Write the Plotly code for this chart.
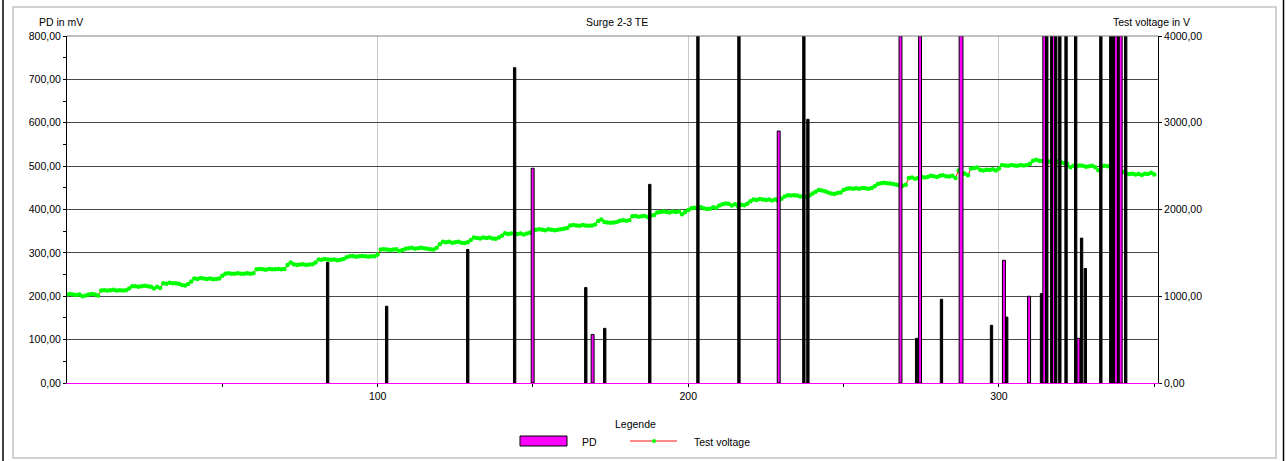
import plotly.graph_objects as go

# ---- data -------------------------------------------------------------
# partial discharge pulses: position on the sample axis and level in mV
pd_x = [83.9, 102.9, 129.0, 144.1, 149.9, 167.0, 169.2, 173.1, 187.6, 203.1,
        216.3, 229.1, 237.2, 238.5, 268.3, 273.5, 274.6, 281.5, 287.8, 297.6,
        301.6, 302.5, 309.7, 313.7, 314.6, 315.4, 317.0, 317.7, 318.3, 319.6,
        321.6, 324.7, 325.6, 326.6, 327.8, 332.8, 336.0, 336.6, 337.2, 337.7,
        338.5, 339.2, 340.8]
pd_mv = [278, 177, 308, 727, 495, 220, 112, 126, 458, 800,
         800, 581, 800, 608, 800, 103, 800, 193, 800, 133,
         283, 152, 200, 206, 800, 800, 800, 800, 800, 800,
         800, 800, 103, 334, 264, 800, 800, 800, 800, 800,
         800, 800, 800]

# test voltage in V, one reading per sample 0..350
voltage = [
    1020, 1025, 1020, 1015, 1020, 1000, 1010, 1020, 1025, 1020,
    1010, 1065, 1070, 1065, 1070, 1075, 1065, 1070, 1065, 1070,
    1090, 1115, 1115, 1110, 1115, 1120, 1115, 1110, 1090, 1110,
    1095, 1150, 1145, 1155, 1150, 1150, 1145, 1130, 1125, 1140,
    1170, 1205, 1200, 1210, 1205, 1200, 1205, 1195, 1200, 1205,
    1235, 1260, 1265, 1260, 1260, 1265, 1260, 1260, 1265, 1260,
    1265, 1310, 1315, 1310, 1305, 1315, 1310, 1310, 1315, 1310,
    1315, 1360, 1390, 1370, 1360, 1365, 1370, 1360, 1365, 1370,
    1390, 1425, 1420, 1430, 1425, 1420, 1425, 1415, 1420, 1430,
    1450, 1460, 1465, 1455, 1460, 1465, 1460, 1455, 1460, 1460,
    1480, 1538, 1543, 1538, 1533, 1538, 1543, 1523, 1533, 1548,
    1553, 1558, 1548, 1553, 1558, 1553, 1548, 1543, 1538, 1558,
    1598, 1628, 1623, 1628, 1618, 1623, 1628, 1618, 1613, 1623,
    1648, 1677, 1672, 1667, 1677, 1672, 1677, 1667, 1662, 1677,
    1697, 1727, 1717, 1722, 1727, 1717, 1722, 1712, 1722, 1732,
    1757, 1767, 1772, 1767, 1762, 1772, 1767, 1762, 1767, 1772,
    1777, 1787, 1817, 1822, 1817, 1812, 1822, 1817, 1812, 1817,
    1827, 1866, 1886, 1856, 1851, 1846, 1851, 1856, 1871, 1876,
    1871, 1876, 1921, 1926, 1916, 1921, 1926, 1911, 1931, 1936,
    1966, 1971, 1976, 1971, 1966, 1976, 1971, 1976, 1946, 1971,
    1995, 2015, 2020, 2015, 2025, 2015, 2005, 2010, 2025, 2020,
    2045, 2060, 2070, 2065, 2045, 2060, 2035, 2055, 2050, 2065,
    2095, 2115, 2110, 2120, 2115, 2110, 2115, 2105, 2115, 2095,
    2125, 2150, 2165, 2160, 2165, 2160, 2150, 2155, 2145, 2160,
    2185, 2205, 2225, 2220, 2210, 2195, 2185, 2180, 2190, 2195,
    2224, 2239, 2244, 2239, 2244, 2239, 2249, 2244, 2239, 2249,
    2269, 2294, 2304, 2309, 2304, 2299, 2294, 2284, 2279, 2274,
    2284, 2364, 2369, 2354, 2364, 2379, 2369, 2374, 2389, 2384,
    2374, 2389, 2394, 2384, 2379, 2389, 2364, 2449, 2404, 2414,
    2394, 2474, 2479, 2484, 2454, 2449, 2459, 2454, 2464, 2449,
    2474, 2513, 2508, 2503, 2513, 2508, 2503, 2513, 2508, 2513,
    2528, 2563, 2573, 2563, 2558, 2548, 2553, 2543, 2548, 2553,
    2543, 2533, 2528, 2488, 2503, 2498, 2508, 2503, 2493, 2498,
    2503, 2488, 2453, 2498, 2503, 2498, 2493, 2478, 2453, 2443,
    2433, 2413, 2408, 2413, 2403, 2408, 2398, 2413, 2408, 2423,
    2403,
]
samples = list(range(len(voltage)))

# ---- styling ----------------------------------------------------------
MAGENTA = "#ff00ff"
# pulses drawn wide enough to show their magenta fill
wide_pulses = {4, 6, 11, 14, 16, 18, 20, 22, 24, 27, 32, 39, 41}
bar_colors = [MAGENTA if i in wide_pulses else "#000000" for i in range(len(pd_x))]
bar_widths = [0.95 if i in wide_pulses else 0.75 for i in range(len(pd_x))]
bar_widths[18] = 1.25

FONT = "Liberation Sans, Arial, sans-serif"
W, H = 1287, 461
L, R, T, B = 67, 1158, 36, 383


def fx(x):
    return (x - L) / (R - L)


def fy(y):
    return (B - y) / (B - T)


fig = go.Figure()

fig.add_trace(go.Scatter(
    x=samples, y=voltage, yaxis="y", mode="lines+markers",
    line=dict(color="#ff0000", width=1),
    marker=dict(color="#00ff00", size=4.5, line=dict(width=0)),
    name="Test voltage", showlegend=False, hoverinfo="skip",
))

fig.add_trace(go.Bar(
    x=pd_x, y=pd_mv, yaxis="y2", width=bar_widths,
    marker=dict(color=bar_colors, line=dict(color="#000000", width=1)),
    name="PD", showlegend=False,
))

axis_font = dict(family=FONT, size=10.5, color="#000000")

fig.update_layout(
    width=W, height=H,
    margin=dict(l=L, r=W - R, t=T, b=H - B, pad=0),
    paper_bgcolor="#ffffff", plot_bgcolor="#ffffff",
    separators=",.",
    barmode="overlay",
    font=dict(family=FONT, size=10.5, color="#000000"),
    xaxis=dict(
        range=[0, 351.2], tickmode="array", tickvals=[100, 200, 300],
        ticktext=["100", "200", "300"],
        showgrid=True, gridcolor="#c8c8c8", gridwidth=1,
        showline=True, linecolor=MAGENTA, linewidth=1,
        ticks="outside", ticklen=3, tickcolor="#000000",
        minor=dict(tickvals=[50, 150, 250, 350], ticks="outside", ticklen=3,
                   tickcolor="#000000", showgrid=False),
        zeroline=False, tickfont=axis_font, fixedrange=True,
    ),
    yaxis=dict(
        range=[0, 4000], side="right", tickmode="linear", tick0=0, dtick=1000,
        tickformat=".2f", showgrid=False, zeroline=False,
        showline=True, linecolor="#000000", linewidth=1,
        ticks="outside", ticklen=3, tickcolor="#000000",
        tickfont=axis_font,
    ),
    yaxis2=dict(
        range=[0, 800], side="left", overlaying="y",
        tickmode="linear", tick0=0, dtick=100, tickformat=".2f",
        showgrid=True, gridcolor="#484848", gridwidth=1, zeroline=False,
        showline=True, linecolor="#000000", linewidth=1,
        ticks="outside", ticklen=3, tickcolor="#000000",
        minor=dict(dtick=50, ticks="outside", ticklen=3, tickcolor="#000000",
                   showgrid=False),
        tickfont=axis_font,
    ),
)

shapes = [
    # outer frame
    dict(type="line", xref="paper", yref="paper", x0=fx(3), x1=fx(3),
         y0=fy(0), y1=fy(H), line=dict(color="#000000", width=1.5)),
    dict(type="line", xref="paper", yref="paper", x0=fx(1283.5), x1=fx(1283.5),
         y0=fy(0), y1=fy(H), line=dict(color="#000000", width=1.5)),
    dict(type="rect", xref="paper", yref="paper", x0=fx(13), x1=fx(1276),
         y0=fy(458), y1=fy(7), line=dict(color="#c4c4c4", width=1.5),
         layer="below"),
    # top border of the plot area
    dict(type="line", xref="paper", yref="paper", x0=0, x1=1, y0=1, y1=1,
         line=dict(color="#808080", width=1)),
    # legend: PD swatch
    dict(type="rect", xref="paper", yref="paper", x0=fx(520), x1=fx(567),
         y0=fy(446), y1=fy(436), fillcolor=MAGENTA,
         line=dict(color="#000000", width=1)),
    # legend: test voltage line with marker
    dict(type="line", xref="paper", yref="paper", x0=fx(630), x1=fx(677),
         y0=fy(441), y1=fy(441), line=dict(color="#ff6060", width=1.5)),
    dict(type="circle", xref="paper", yref="paper", x0=fx(652), x1=fx(656),
         y0=fy(443), y1=fy(439), fillcolor="#00ff00",
         line=dict(color="#00ff00", width=0)),
]

annotations = [
    dict(text="Surge 2-3 TE", x=fx(617), y=fy(22)),
    dict(text="PD in mV", x=fx(61), y=fy(22)),
    dict(text="Test voltage in V", x=fx(1151), y=fy(22)),
    dict(text="Legende", x=fx(635), y=fy(424)),
    dict(text="PD", x=fx(589), y=fy(442)),
    dict(text="Test voltage", x=fx(722), y=fy(442)),
]
for a in annotations:
    a.update(xref="paper", yref="paper", showarrow=False,
             xanchor="center", yanchor="middle",
             font=dict(family=FONT, size=10.5, color="#000000"))

fig.update_layout(shapes=shapes, annotations=annotations)

fig.write_html("out.html", config={"displayModeBar": False})
